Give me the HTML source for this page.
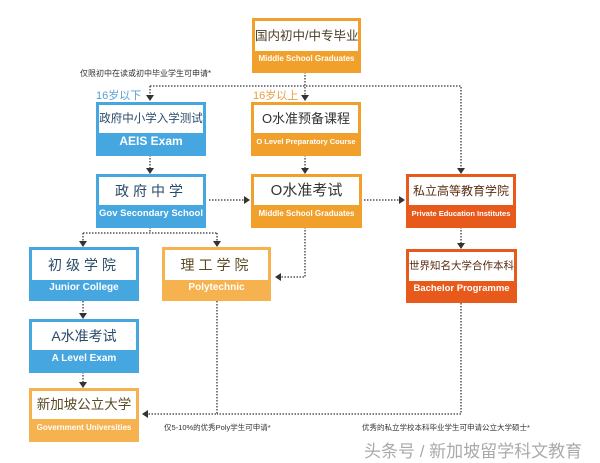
<!DOCTYPE html>
<html><head><meta charset="utf-8"><style>
body{margin:0;width:600px;height:463px;background:#fff;position:relative;overflow:hidden;font-family:"Liberation Sans","Noto Sans CJK SC",sans-serif}
.b{position:absolute;box-sizing:border-box;border:3px solid;}
.b .t{position:absolute;left:0;right:0;top:0;background:#fff;text-align:center;color:#333;white-space:nowrap;overflow:hidden}
.b .e{position:absolute;left:0;right:0;bottom:0;text-align:center;color:#fff;font-weight:bold;white-space:nowrap;overflow:hidden}
.blue{border-color:#45a6e0;background:#45a6e0}
.or{border-color:#f2a02c;background:#f2a02c}
.lo{border-color:#f6b24e;background:#f6b24e}
.red{border-color:#e85a1c;background:#e85a1c}
.n{position:absolute;font-size:8px;color:#333;white-space:nowrap}
svg{position:absolute;left:0;top:0}
</style></head><body>
<svg width="600" height="463">
<g stroke="#555" stroke-width="1.5" stroke-dasharray="1.5 1.5" fill="none">
<path d="M150 86H461V170"/><path d="M150 86V96"/><path d="M305 72V96"/>
<path d="M150 155V169"/><path d="M305 155V169"/>
<path d="M209 200H245"/><path d="M364 200H400"/>
<path d="M150 227V233M83 233H217M83 233V242M217 233V242"/>
<path d="M305 227V277H281"/>
<path d="M461 227V244"/>
<path d="M83 301V314M83 372V383"/>
<path d="M217 301V414H147M461 303V414H217"/>
</g>
<g fill="#333">
<path d="M146 95h8l-4 6z"/><path d="M301 95h8l-4 6z"/><path d="M457 168h8l-4 6z"/>
<path d="M146 168h8l-4 6z"/><path d="M301 168h8l-4 6z"/>
<path d="M244 196v8l6-4z"/><path d="M399 196v8l6-4z"/>
<path d="M79 241h8l-4 6z"/><path d="M213 241h8l-4 6z"/><path d="M457 243h8l-4 6z"/>
<path d="M281 273v8l-6-4z"/>
<path d="M79 313h8l-4 6z"/><path d="M79 382h8l-4 6z"/>
<path d="M148 410v8l-6-4z"/>
</g>
</svg>

<div class="b or" style="left:252px;top:18px;width:109px;height:55px"><div class="t" style="height:30px;line-height:30px;font-size:12.5px;color:#4a3a20">国内初中/中专毕业</div><div class="e" style="height:22px;line-height:22px;font-size:8px">Middle School Graduates</div></div>

<div class="n" style="left:80px;top:68px">仅限初中在读或初中毕业学生可申请*</div>
<div class="n" style="left:96px;top:87px;font-size:11px;color:#5aa0d0">16岁以下</div>
<div class="n" style="left:253px;top:87px;font-size:11px;color:#e8a040">16岁以上</div>

<div class="b blue" style="left:96px;top:102px;width:110px;height:54px"><div class="t" style="height:28px;line-height:28px;font-size:11.5px;color:#2a4a6a">政府中小学入学测试</div><div class="e" style="height:23px;line-height:23px;font-size:12px">AEIS Exam</div></div>
<div class="b or" style="left:251px;top:102px;width:110px;height:54px"><div class="t" style="height:28px;line-height:28px;font-size:13px">O水准预备课程</div><div class="e" style="height:23px;line-height:23px;font-size:7.5px">O Level Preparatory Course</div></div>

<div class="b blue" style="left:96px;top:174px;width:110px;height:54px"><div class="t" style="height:28px;line-height:28px;font-size:14px;letter-spacing:4px;color:#2a4a6a">政府中学</div><div class="e" style="height:23px;line-height:23px;font-size:9.5px">Gov Secondary School</div></div>
<div class="b or" style="left:251px;top:174px;width:111px;height:54px"><div class="t" style="height:28px;line-height:28px;font-size:15px">O水准考试</div><div class="e" style="height:23px;line-height:23px;font-size:8px">Middle School Graduates</div></div>
<div class="b red" style="left:406px;top:174px;width:110px;height:54px"><div class="t" style="height:28px;line-height:28px;font-size:12px;color:#5a2a10">私立高等教育学院</div><div class="e" style="height:23px;line-height:23px;font-size:7.5px">Private Education Institutes</div></div>

<div class="b blue" style="left:29px;top:247px;width:110px;height:54px"><div class="t" style="height:30px;line-height:30px;font-size:14px;letter-spacing:4px;color:#2a4a6a">初级学院</div><div class="e" style="height:21px;line-height:21px;font-size:10px">Junior College</div></div>
<div class="b lo" style="left:162px;top:247px;width:109px;height:54px"><div class="t" style="height:30px;line-height:30px;font-size:14px;letter-spacing:4px;color:#5a4a20">理工学院</div><div class="e" style="height:21px;line-height:21px;font-size:10px">Polytechnic</div></div>
<div class="b red" style="left:406px;top:249px;width:111px;height:54px"><div class="t" style="height:29px;line-height:29px;font-size:10.5px;color:#5a2a10">世界知名大学合作本科</div><div class="e" style="height:22px;line-height:22px;font-size:9.5px">Bachelor Programme</div></div>

<div class="b blue" style="left:29px;top:319px;width:110px;height:54px"><div class="t" style="height:28px;line-height:28px;font-size:14px;color:#2a4a6a">A水准考试</div><div class="e" style="height:23px;line-height:23px;font-size:10px">A Level Exam</div></div>
<div class="b lo" style="left:29px;top:388px;width:110px;height:54px"><div class="t" style="height:28px;line-height:28px;font-size:13.5px;color:#5a4a20">新加坡公立大学</div><div class="e" style="height:23px;line-height:23px;font-size:8px">Government Universities</div></div>

<div class="n" style="left:164px;top:422px;font-size:7.5px">仅5-10%的优秀Poly学生可申请*</div>
<div class="n" style="left:362px;top:422px;font-size:7.5px">优秀的私立学校本科毕业学生可申请公立大学硕士*</div>
<div class="n" style="left:364px;top:437px;font-size:17px;color:#aaa">头条号 / 新加坡留学科文教育</div>
</body></html>
